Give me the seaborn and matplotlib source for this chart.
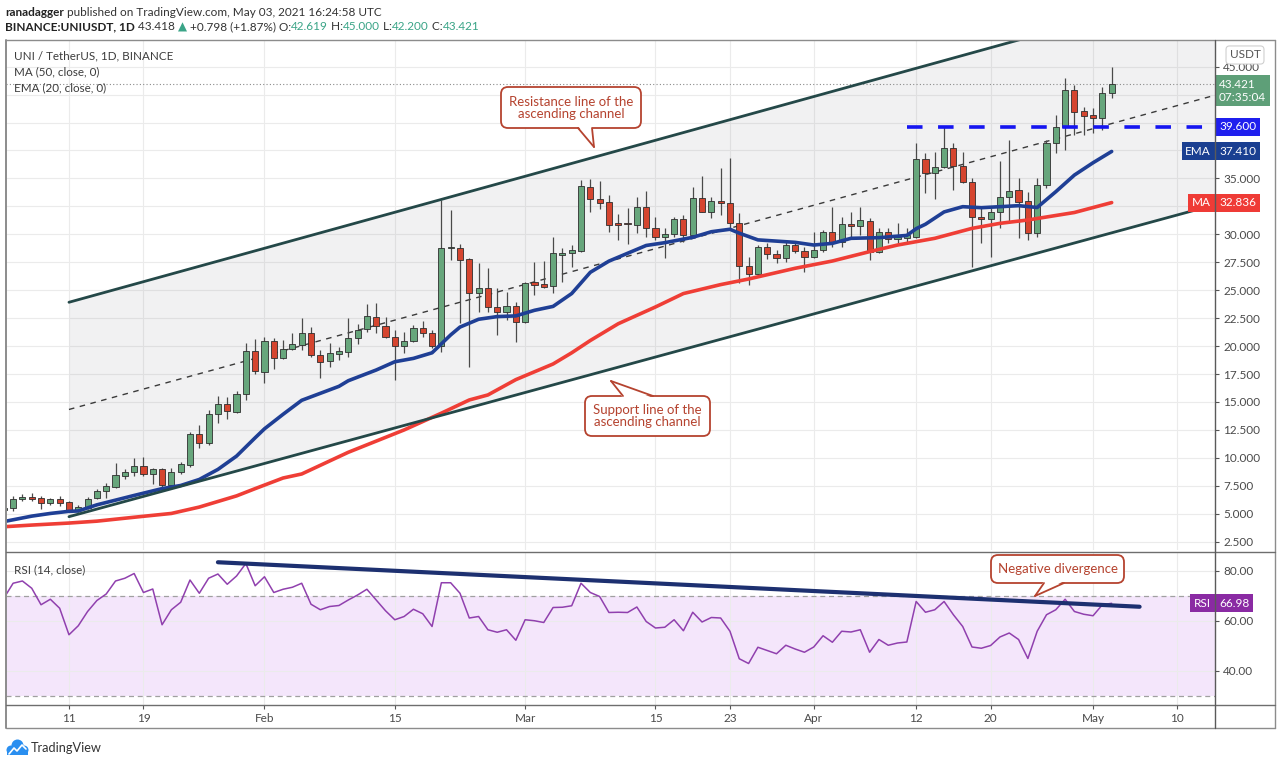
import numpy as np
import pandas as pd
import matplotlib
matplotlib.use("Agg")
import matplotlib.pyplot as plt
import matplotlib.transforms as mtransforms
from matplotlib.patches import FancyBboxPatch, Polygon, Circle, Rectangle
from matplotlib.lines import Line2D
import seaborn as sns

# ---------------- data ----------------
dates = pd.date_range("2021-01-04", "2021-05-03", freq="D")

opens = [5.30, 5.54, 6.28, 6.49, 6.37, 5.92, 6.28, 6.04, 5.33, 5.54, 6.43, 7.00, 7.41, 8.37,
         8.73, 9.26, 8.58, 9.02, 7.53, 8.73, 9.32, 12.10, 11.29, 13.94, 14.80, 14.12, 15.67, 19.55,
         17.72, 20.49, 18.91, 19.71, 20.10, 21.14, 19.20, 18.70, 19.27, 19.50, 20.70, 21.50, 22.64, 21.80,
         20.79, 20.00, 20.49, 21.60, 21.20, 20.00, 28.75, 28.80, 27.76, 24.78, 25.23, 23.53, 23.08, 23.59,
         22.19, 25.77, 25.56, 25.38, 28.15, 28.30, 28.54, 34.20, 33.15, 32.92, 30.98, 31.04, 30.83, 32.47,
         30.60, 29.76, 30.00, 31.34, 29.94, 33.28, 32.03, 32.98, 32.77, 30.98, 27.20, 26.42, 28.86, 28.20,
         27.85, 29.04, 28.50,
         28.00, 28.60, 30.23, 29.28, 30.89, 30.77, 31.22, 28.45, 30.23, 29.55, 29.70, 29.79, 36.70, 35.45,
         36.05, 37.69, 36.10, 34.70, 31.58, 31.37, 31.97, 33.37, 33.96, 32.98, 30.09, 34.41, 38.13, 39.63,
         42.91, 41.03,
         40.67, 40.37, 42.619]
highs = [5.85, 6.58, 6.73, 6.82, 6.58, 6.43, 6.58, 6.13, 5.75, 6.52, 7.24, 7.77, 9.50, 9.02,
         9.98, 10.04, 9.11, 9.11, 9.11, 9.62, 12.33, 12.93, 14.27, 15.58, 15.46, 15.97, 20.30, 20.60,
         20.80, 20.70, 20.55, 21.20, 22.49, 21.74, 19.65, 20.25, 19.95, 22.49, 21.98, 23.77, 23.83, 22.64,
         21.44, 21.30, 21.90, 22.28, 21.44, 33.07, 32.18, 29.13, 27.85, 27.40, 26.96, 25.17, 24.87, 23.98,
         25.77, 27.55, 27.64, 29.80, 28.75, 29.05, 34.86, 34.92, 34.75, 33.50, 31.79, 32.38, 33.37, 33.87,
         31.58, 30.53, 31.58, 31.73, 34.26, 35.24, 33.37, 35.90, 36.80, 31.87, 28.00, 29.04, 29.20, 28.60,
         29.40, 29.34, 28.90,
         30.23, 30.39, 32.47, 31.58, 32.03, 32.47, 31.43, 30.53, 30.60, 30.98, 30.60, 38.13, 37.25, 37.40,
         39.63, 38.13, 37.40, 35.00, 32.47, 32.32, 36.55, 38.43, 35.00, 33.81, 35.00, 38.43, 40.67, 43.95,
         43.35, 41.40,
         41.26, 43.20, 45.00]
lows = [5.10, 5.24, 6.13, 6.13, 5.45, 5.75, 5.69, 5.15, 5.15, 5.45, 6.34, 6.43, 7.32, 8.13,
        8.37, 8.37, 7.68, 7.41, 7.32, 8.52, 9.20, 10.90, 11.11, 13.08, 13.44, 14.03, 15.17, 17.46,
        16.66, 17.93, 18.82, 19.65, 19.65, 19.06, 17.12, 18.16, 18.76, 19.06, 20.19, 21.30, 21.14, 20.70,
        16.97, 19.35, 20.40, 20.85, 19.80, 19.50, 27.70, 22.04, 18.16, 23.08, 23.08, 21.00, 22.34, 20.40,
        22.04, 24.57, 25.17, 24.72, 25.77, 27.10, 28.45, 32.03, 32.30, 30.24, 29.49, 29.10, 30.10, 29.80,
        29.50, 27.90, 29.80, 29.34, 29.79, 31.96, 31.43, 31.73, 30.53, 25.60, 25.45, 26.36, 27.80, 27.40,
        27.50, 28.30, 26.66,
        27.90, 28.45, 28.90, 28.90, 29.78, 29.94, 27.70, 28.30, 29.19, 29.19, 29.19, 29.64, 33.66, 33.20,
        35.90, 33.96, 34.56, 27.10, 29.19, 28.00, 30.53, 30.98, 29.64, 29.50, 29.79, 34.11, 37.25, 37.54,
        38.88, 38.88,
        39.10, 39.30, 42.20]
closes = [5.55, 6.28, 6.52, 6.28, 5.92, 6.28, 5.98, 5.24, 5.60, 6.34, 7.03, 7.47, 8.43, 8.76,
          9.26, 8.58, 9.02, 7.53, 8.76, 9.44, 12.10, 11.35, 13.97, 14.80, 14.18, 15.70, 19.60, 17.76,
          20.49, 18.91, 19.71, 20.19, 21.14, 19.20, 18.61, 19.35, 19.56, 20.70, 21.44, 22.70, 21.80, 20.79,
          20.01, 20.49, 21.60, 21.20, 20.00, 28.75, 28.80, 27.70, 24.78, 25.23, 23.47, 23.08, 23.59, 22.19,
          25.68, 25.47, 25.30, 28.30, 28.36, 28.60, 34.32, 33.13, 32.83, 30.83, 30.86, 30.89, 32.47, 30.60,
          29.76, 30.00, 31.34, 29.94, 33.28, 32.03, 32.98, 32.77, 30.98, 27.20, 26.42, 28.86, 28.20, 27.85,
          29.04, 28.50, 28.00,
          28.60, 30.23, 29.28, 30.89, 30.77, 31.28, 28.45, 30.23, 29.55, 29.79, 29.94, 36.70, 35.45, 36.05,
          37.69, 36.10, 34.70, 31.58, 31.37, 31.97, 33.37, 33.87, 32.92, 30.09, 34.41, 38.13, 39.63, 42.91,
          40.97, 40.61,
          40.37, 42.61, 43.421]

rsi_vals = [69.0, 75.0, 75.9, 73.0, 66.4, 68.6, 65.0, 54.4, 58.0, 63.7, 68.1, 70.7, 75.9, 77.0,
            78.9, 71.3, 72.7, 58.4, 64.4, 67.4, 76.3, 71.0, 77.0, 78.7, 74.6, 77.9, 82.9, 74.0,
            77.6, 71.3, 72.6, 73.4, 75.0, 66.6, 64.4, 65.7, 66.1, 68.3, 70.3, 72.6, 68.3, 64.0,
            60.4, 61.7, 64.6, 62.8, 57.7, 75.2, 75.2, 71.0, 61.1, 61.7, 56.4, 55.4, 56.4, 52.2,
            60.4, 60.0, 59.3, 65.3, 65.4, 66.0, 75.0, 71.3, 69.7, 63.3, 63.4, 63.3, 65.5, 59.7,
            57.1, 57.4, 60.4, 56.0, 63.4, 59.5, 61.3, 61.1, 55.8, 44.8, 42.9, 49.4, 48.1, 46.8,
            50.2, 48.7, 47.4,
            49.5, 54.0, 51.4, 55.8, 55.5, 56.4, 47.4, 52.5, 50.2, 51.1, 51.5, 67.7, 63.4, 64.4,
            67.7, 62.4, 57.7, 49.5, 49.0, 50.1, 53.5, 55.1, 52.5, 44.9, 55.8, 62.4, 64.4, 68.6,
            63.7, 62.6,
            62.0, 66.4, 66.98]

# EMA(20) and MA(50) (day offset from 2021-01-04, value)
ema_day = [0, 3, 5, 7, 8, 10, 14, 17, 19, 21, 23, 25, 27, 28, 30, 32, 36, 37, 40, 42, 44, 46, 47, 48,
           49, 51, 53, 55, 57, 59, 61, 63, 65, 67, 69, 71, 74, 76, 78, 79, 81, 85, 87, 89, 91, 94, 97,
           98, 99, 101, 103, 105, 109, 111, 113, 115, 117, 119]
ema_val = [4.30, 4.79, 5.03, 5.22, 5.25, 5.80, 6.64, 7.25, 7.53, 8.07, 8.97, 10.16, 11.8, 12.6, 13.9,
           15.15, 16.4, 16.9, 17.86, 18.6, 18.9, 19.4, 20.2, 21.0, 21.7, 22.4, 22.64, 22.7, 23.2, 23.55,
           24.7, 26.6, 27.6, 28.3, 29.0, 29.25, 29.73, 30.23, 30.45, 30.1, 29.5, 29.28, 29.04, 29.19,
           29.64, 29.7, 29.9, 30.5, 30.9, 32.0, 32.47, 32.38, 32.56, 32.4, 33.81, 35.3, 36.4, 37.41]
ma_day = [0, 3, 7, 10, 14, 18, 21, 25, 27, 30, 32, 37, 43, 47, 50, 52, 55, 59, 61, 63, 66, 70, 73,
          77, 80, 85, 89, 93, 96, 100, 104, 107, 110, 115, 119]
ma_val = [3.84, 3.99, 4.17, 4.34, 4.69, 5.03, 5.6, 6.6, 7.25, 8.2, 8.56, 10.5, 12.5, 14.0, 15.18,
          15.63, 17.0, 18.4, 19.4, 20.5, 22.0, 23.5, 24.7, 25.5, 26.0, 26.96, 27.61, 28.45, 29.04,
          29.64, 30.53, 30.98, 31.28, 31.95, 32.836]

# drawings
chan_day = [7, 131]
resist_val = [23.92, 52.44]
support_val = [4.74, 32.85]
level_day = [97, 131]
level_val = 39.60
rsi_trend_day = [23, 122]
rsi_trend_val = [83.4, 65.6]

tick_dates = ["2021-01-11", "2021-01-19", "2021-02-01", "2021-02-15", "2021-03-01", "2021-03-15",
              "2021-03-23", "2021-04-01", "2021-04-12", "2021-04-20", "2021-05-01", "2021-05-10"]
tick_labels = ["11", "19", "Feb", "15", "Mar", "15", "23", "Apr", "12", "20", "May", "10"]
price_ticks = [2.5, 5, 7.5, 10, 12.5, 15, 17.5, 20, 22.5, 25, 27.5, 30, 32.5, 35, 37.5, 40, 42.5, 45]
hidden_price_labels = [32.5, 37.5, 40, 42.5]
rsi_ticks = [40, 60, 80]

last_close, last_ema, last_ma, last_rsi = 43.421, 37.410, 32.836, 66.98

# ---------------- styling ----------------
sns.set_theme(style="white")
plt.rcParams["font.family"] = ["Lato", "DejaVu Sans"]
FAM = ["Lato", "DejaVu Sans"]

W, H = 1280, 766
fig = plt.figure(figsize=(12.8, 7.66), dpi=100, facecolor="white")


def fx(px):
    return px / W


def fy(py):
    return 1 - py / H


def P(px, py):
    return (px / 100.0, (H - py) / 100.0)


X0, X1 = 6, 1215
ax = fig.add_axes([fx(X0), fy(550), fx(X1) - fx(X0), (550 - 40) / H])
ar = fig.add_axes([fx(X0), fy(705), fx(X1) - fx(X0), (705 - 553) / H])

days = np.array((dates - dates[0]).days)
o, h, l, c = map(np.array, (opens, highs, lows, closes))
tick_days = [(pd.Timestamp(d) - dates[0]).days for d in tick_dates]

GREEN = "#67a67c"
RED = "#d5452f"
GRID = "#ebebeb"

# channel
mid_val = [(a + b) / 2 for a, b in zip(resist_val, support_val)]
ax.fill_between(chan_day, support_val, resist_val, color="#787b86", alpha=0.10, lw=0, zorder=1)
ax.plot(chan_day, mid_val, color="#3a3a3a", lw=1.0, ls=(0, (4, 4)), zorder=2)

# candles
up = c >= o
cols = np.where(up, GREEN, RED)
ax.vlines(days, l, h, color="#4a4a4a", lw=0.9, zorder=3)
ax.bar(days, np.maximum(np.abs(c - o), 0.09), bottom=np.minimum(o, c), width=0.66,
       color=cols, edgecolor="#2e2e2e", linewidth=0.6, zorder=4)

# moving averages
sns.lineplot(x=ma_day, y=ma_val, ax=ax, color="#ef3e36", linewidth=2.6, estimator=None, zorder=5)
sns.lineplot(x=ema_day, y=ema_val, ax=ax, color="#1f3f95", linewidth=2.6, estimator=None, zorder=5)

ax.plot(chan_day, resist_val, color="#244848", lw=2.0, zorder=6)
ax.plot(chan_day, support_val, color="#244848", lw=2.0, zorder=6)
ax.plot(level_day, [level_val, level_val], color="#1515f0", lw=2.6, ls=(0, (4.3, 4.3)), zorder=6)
ax.axhline(last_close, color="#8a8a8a", lw=0.8, ls=(0, (1, 2)), zorder=2)

ax.set_xlim(0.236, 130.1)
ax.set_ylim(1.76, 47.38)
ax.set_yticks(price_ticks)
ax.set_yticklabels(["" if t in hidden_price_labels else f"{t:.3f}" for t in price_ticks])
ax.yaxis.tick_right()
ax.set_xticks(tick_days)
ax.set_xticklabels([])
ax.tick_params(axis="x", length=0)
ax.tick_params(axis="y", right=True, left=False, length=3, width=0.8, color="#555555",
               pad=3, labelsize=8.5, labelcolor="#4a4a4a")
ax.grid(True, color=GRID, lw=0.8)
ax.set_axisbelow(True)
ax.set_xlabel("")
ax.set_ylabel("")
for s in ax.spines.values():
    s.set_visible(False)

# RSI pane
ar.axhspan(30, 70, color="#f4e6fb", lw=0, zorder=0)
ar.axhline(70, color="#a0a0a0", lw=0.9, ls=(0, (4, 3)), zorder=1)
ar.axhline(30, color="#a0a0a0", lw=0.9, ls=(0, (4, 3)), zorder=1)
sns.lineplot(x=days, y=rsi_vals, ax=ar, color="#9040ae", linewidth=1.1, estimator=None, zorder=3)
ar.plot(rsi_trend_day, rsi_trend_val, color="#1d3070", lw=3.0, solid_capstyle="round", zorder=4)
ar.set_xlim(0.236, 130.1)
ar.set_ylim(26.3, 87.1)
ar.set_yticks(rsi_ticks)
ar.set_yticklabels([f"{t:.2f}" for t in rsi_ticks])
ar.yaxis.tick_right()
ar.set_xticks(tick_days)
ar.set_xticklabels(tick_labels)
ar.tick_params(axis="x", bottom=True, length=3, width=0.8, color="#555555", pad=3,
               labelsize=8.5, labelcolor="#4a4a4a")
ar.tick_params(axis="y", right=True, left=False, length=3, width=0.8, color="#555555",
               pad=3, labelsize=8.5, labelcolor="#4a4a4a")
ar.grid(True, color=GRID, lw=0.8)
ar.set_axisbelow(True)
ar.set_xlabel("")
ar.set_ylabel("")
for s in ar.spines.values():
    s.set_visible(False)


# frame lines
def fline(x0, y0, x1, y1, color="#8c8c8c", lw=1.0, z=30):
    fig.add_artist(Line2D([fx(x0), fx(x1)], [fy(y0), fy(y1)], transform=fig.transFigure,
                          color=color, lw=lw, zorder=z))


fline(6, 40, 1275, 40)
fline(6, 40, 6, 728, lw=1.4)
fline(1275, 40, 1275, 728)
fline(6, 728, 1275, 728)
fline(6, 551.5, 1275, 551.5, color="#6e6e6e")
fline(6, 705, 1275, 705, color="#6e6e6e")
fline(1215, 40, 1215, 728, color="#5a5a5a")


# axis tags
def tag(axis, y, text, fc, x_px, ha="left", tc="white", ls=1.2):
    tr = mtransforms.blended_transform_factory(fig.transFigure, axis.transData)
    axis.text(fx(x_px), y, text, transform=tr, ha=ha, va="center", color=tc, fontsize=8.5,
              linespacing=ls, bbox=dict(boxstyle="square,pad=0.3", fc=fc, ec="none"),
              clip_on=False, zorder=40)


tag(ax, 42.85, f"{last_close:.3f}\n07:35:04", "#5e9f78", 1219)
tag(ax, level_val, f"{level_val:.3f}", "#1f1fee", 1219)
tag(ax, last_ema, "EMA", "#1a3f91", 1211, ha="right")
tag(ax, last_ema, f"{last_ema:.3f}", "#1a3f91", 1219)
tag(ax, last_ma, "MA", "#ef3b36", 1211, ha="right")
tag(ax, last_ma, f"{last_ma:.3f}", "#ef3b36", 1219)
tag(ar, last_rsi, "RSI", "#8a2aa3", 1211, ha="right")
tag(ar, last_rsi, f"{last_rsi:.2f}", "#8a2aa3", 1219)
fig.text(fx(1245), fy(55), "USDT", ha="center", va="center", fontsize=8.5, color="#555555",
         bbox=dict(boxstyle="round,pad=0.3", fc="white", ec="#cfcfcf", lw=0.8), zorder=40)

# legend texts inside chart
for yy, txt in [(56, "UNI / TetherUS, 1D, BINANCE"), (72, "MA (50, close, 0)"),
                (88, "EMA (20, close, 0)")]:
    fig.text(fx(14), fy(yy), txt, ha="left", va="center", fontsize=8.4, color="#3c3c3c", zorder=40)
fig.text(fx(14), fy(570), "RSI (14, close)", ha="left", va="center", fontsize=8.4,
         color="#3c3c3c", zorder=40)

# callouts
BROWN = "#b5432f"


def callout(x0, y0, x1, y1, text, base1, base2, tip, inward):
    box = FancyBboxPatch(P(x0, y1), (x1 - x0) / 100.0, (y1 - y0) / 100.0,
                         boxstyle="round,pad=0,rounding_size=0.07", transform=fig.dpi_scale_trans,
                         fc="white", ec=BROWN, lw=1.3, zorder=50)
    fig.add_artist(box)
    tri = Polygon([P(base1[0], base1[1] + inward), P(base2[0], base2[1] + inward), P(*tip)],
                  closed=True, transform=fig.dpi_scale_trans, fc="white", ec="none", zorder=51)
    fig.add_artist(tri)
    for b in (base1, base2):
        p0, p1 = P(*b), P(*tip)
        fig.add_artist(Line2D([p0[0], p1[0]], [p0[1], p1[1]], transform=fig.dpi_scale_trans,
                              color=BROWN, lw=1.3, zorder=52))
    fig.text(fx((x0 + x1) / 2), fy((y0 + y1) / 2), text, ha="center", va="center",
             fontsize=9.5, color=BROWN, linespacing=1.0, zorder=53)


callout(501, 87, 641, 128, "Resistance line of the\nascending channel",
        (578, 128), (592, 128), (594, 147), -2)
callout(585, 396, 710, 436, "Support line of the\nascending channel",
        (623, 396), (653, 396), (611, 381), 2)
callout(991, 555, 1124, 583, "Negative divergence",
        (1044, 583), (1064, 583), (1035, 596), -2)


# header
def chain(pieces, x_px, y_px, size=8.5):
    prev = None
    for txt, col, wt in pieces:
        if prev is None:
            prev = fig.text(fx(x_px), fy(y_px), txt, color=col, fontweight=wt, fontsize=size,
                            ha="left", va="center", family=FAM)
        else:
            prev = ax.annotate(txt, xy=(1, 0.5), xycoords=prev, ha="left", va="center",
                               color=col, fontweight=wt, fontsize=size, family=FAM,
                               annotation_clip=False)


TXT = "#333333"
VAL = "#3aa487"
chain([("ranadagger", "#222222", "bold"),
       (" published on TradingView.com, May 03, 2021 16:24:58 UTC", TXT, "normal")], 5, 13)
chain([("BINANCE:UNIUSDT, 1D", "#222222", "bold"), (" 43.418 ", TXT, "normal"),
       ("▲", VAL, "normal"), (" +0.798 (+1.87%) O:", TXT, "normal"), ("42.619", VAL, "normal"),
       (" H:", TXT, "normal"), ("45.000", VAL, "normal"), (" L:", TXT, "normal"),
       ("42.200", VAL, "normal"), (" C:", TXT, "normal"), ("43.421", VAL, "normal")], 5, 27)

# TradingView logo
LOGO = "#2a8ff0"
for (cx, cy, r) in [(11, 750, 4.5), (17.5, 745.5, 6), (24, 750, 4.5)]:
    fig.add_artist(Circle(P(cx, cy), r / 100.0, transform=fig.dpi_scale_trans, fc=LOGO,
                          ec="none", zorder=40))
fig.add_artist(Rectangle(P(7, 755), 21 / 100.0, 6 / 100.0, transform=fig.dpi_scale_trans,
                         fc=LOGO, ec="none", zorder=40))
zz = [P(9, 754), P(14, 748), P(17, 751), P(22, 745), P(26, 749)]
fig.add_artist(Line2D([p[0] for p in zz], [p[1] for p in zz], transform=fig.dpi_scale_trans,
                      color="white", lw=1.2, zorder=41))
fig.text(fx(31), fy(748), "TradingView", ha="left", va="center", fontsize=9.2, color="#333333")

fig.savefig("out.png", dpi=100, facecolor="white")
